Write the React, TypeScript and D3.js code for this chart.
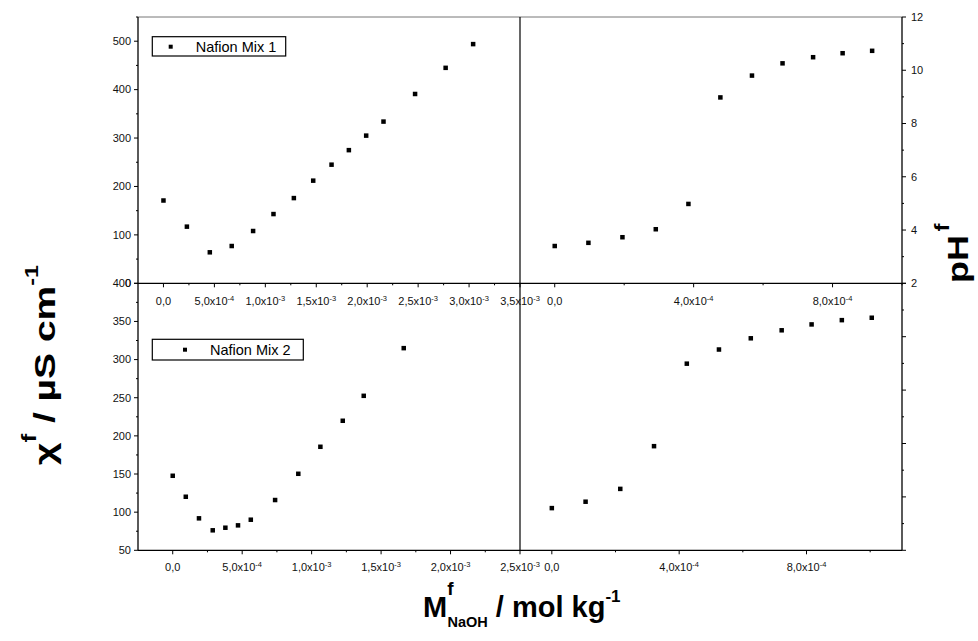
import React from "react";
import * as d3 from "d3";

// ---- data ----
const mix1X = [0, 2.3e-4, 4.55e-4, 6.7e-4, 8.8e-4, 1.08e-3, 1.28e-3, 1.47e-3, 1.65e-3, 1.82e-3, 1.99e-3, 2.16e-3, 2.47e-3, 2.77e-3, 3.04e-3];
const mix1Cond = [171, 117, 64, 77, 108, 143, 176, 212, 245, 275, 305, 334, 391, 445, 494];
const mix1pHX = [0, 0.97e-4, 1.95e-4, 2.91e-4, 3.85e-4, 4.77e-4, 5.68e-4, 6.56e-4, 7.44e-4, 8.29e-4, 9.14e-4];
const mix1pH = [3.4, 3.52, 3.73, 4.03, 4.98, 8.98, 9.8, 10.26, 10.49, 10.64, 10.73];
const mix2X = [0, 0.94e-4, 1.89e-4, 2.88e-4, 3.79e-4, 4.7e-4, 5.62e-4, 7.37e-4, 9.04e-4, 1.063e-3, 1.224e-3, 1.375e-3, 1.663e-3];
const mix2Cond = [147.7, 120.2, 91.9, 76.2, 79.6, 82.7, 90.1, 115.9, 150.3, 185.7, 219.8, 252.5, 315];
const mix2pHX = [0, 1.06e-4, 2.15e-4, 3.21e-4, 4.24e-4, 5.25e-4, 6.25e-4, 7.22e-4, 8.16e-4, 9.11e-4, 1.005e-3];
const mix2pH = [3.58, 3.82, 4.3, 5.9, 8.99, 9.52, 9.94, 10.24, 10.46, 10.62, 10.71];

const topLeftXTicks = [0, 5e-4, 1e-3, 1.5e-3, 2e-3, 2.5e-3, 3e-3, 3.5e-3];
const topLeftXMinor = [2.5e-4, 7.5e-4, 1.25e-3, 1.75e-3, 2.25e-3, 2.75e-3, 3.25e-3];
const topLeftYTicks = [0, 100, 200, 300, 400, 500];
const topLeftYMinor = [50, 150, 250, 350, 450, 550];
const botLeftXTicks = [0, 5e-4, 1e-3, 1.5e-3, 2e-3, 2.5e-3];
const botLeftXMinor = [2.5e-4, 7.5e-4, 1.25e-3, 1.75e-3, 2.25e-3];
const botLeftYTicks = [50, 100, 150, 200, 250, 300, 350, 400];
const botLeftYMinor = [75, 125, 175, 225, 275, 325, 375];
const rightXTicks = [0, 4e-4, 8e-4];
const rightXMinor = [2e-4, 6e-4, 1e-3];
const pHTicks = [2, 4, 6, 8, 10, 12];
const pHMinor = [3, 5, 7, 9, 11];

const legend1 = "Nafion Mix 1";
const legend2 = "Nafion Mix 2";

// ---- layout ----
const W = 978, H = 641;
const L = 138, MX = 520, R = 902, T = 17, MY = 283.3, B = 550.3;
const FONT = "'Liberation Sans', Arial, sans-serif";

const xTL = d3.scaleLinear().domain([-2.5e-4, 3.5e-3]).range([L, MX]);
const yTL = d3.scaleLinear().domain([0, 550]).range([MY, T]);
const xTR = d3.scaleLinear().domain([-1e-4, 1e-3]).range([MX, R]);
const yTR = d3.scaleLinear().domain([2, 12]).range([MY, T]);
const xBL = d3.scaleLinear().domain([-2.5e-4, 2.5e-3]).range([L, MX]);
const yBL = d3.scaleLinear().domain([50, 400]).range([B, MY]);
const xBR = d3.scaleLinear().domain([-1e-4, 1.1e-3]).range([MX, R]);
const yBR = d3.scaleLinear().domain([2, 12]).range([B, MY]);

function SciLabel({ v, x, y }: { v: number; x: number; y: number }) {
  if (v === 0) {
    return (
      <text x={x} y={y} textAnchor="middle" fontSize={11} fontFamily={FONT} fill="#111">
        0,0
      </text>
    );
  }
  const e = Math.floor(Math.log10(v) + 1e-9);
  const m = v / Math.pow(10, e);
  const ms = m.toFixed(1).replace(".", ",");
  return (
    <text x={x} y={y} textAnchor="middle" fontSize={11} fontFamily={FONT} fill="#111">
      {ms + "x10"}
      <tspan fontSize={7.5} dy={-4.5}>{String(e)}</tspan>
    </text>
  );
}

function XAxis({ scale, y, major, minor, labelY }: any) {
  return (
    <g>
      {major.map((v: number, i: number) => (
        <line key={"M" + i} x1={scale(v)} x2={scale(v)} y1={y} y2={y + 4} stroke="#000" strokeWidth={1} />
      ))}
      {minor.map((v: number, i: number) => (
        <line key={"m" + i} x1={scale(v)} x2={scale(v)} y1={y} y2={y + 2} stroke="#000" strokeWidth={1} />
      ))}
      {major.map((v: number, i: number) => (
        <SciLabel key={"l" + i} v={v} x={scale(v)} y={labelY} />
      ))}
    </g>
  );
}

function LeftAxis({ scale, major, minor, labels }: any) {
  return (
    <g>
      {major.map((v: number, i: number) => (
        <line key={"M" + i} x1={L - 4} x2={L} y1={scale(v)} y2={scale(v)} stroke="#000" strokeWidth={1} />
      ))}
      {minor.map((v: number, i: number) => (
        <line key={"m" + i} x1={L - 2} x2={L} y1={scale(v)} y2={scale(v)} stroke="#000" strokeWidth={1} />
      ))}
      {labels &&
        major.map((v: number, i: number) => (
          <text key={"l" + i} x={L - 7} y={scale(v) + 3.8} textAnchor="end" fontSize={11} fontFamily={FONT} fill="#111">
            {String(v)}
          </text>
        ))}
    </g>
  );
}

function RightAxis({ scale, major, minor, labels }: any) {
  return (
    <g>
      {major.map((v: number, i: number) => (
        <line key={"M" + i} x1={R} x2={R + 4} y1={scale(v)} y2={scale(v)} stroke="#000" strokeWidth={1} />
      ))}
      {minor.map((v: number, i: number) => (
        <line key={"m" + i} x1={R} x2={R + 2} y1={scale(v)} y2={scale(v)} stroke="#000" strokeWidth={1} />
      ))}
      {labels &&
        major.map((v: number, i: number) => (
          <text key={"l" + i} x={R + 9} y={scale(v) + 3.8} textAnchor="start" fontSize={11} fontFamily={FONT} fill="#111">
            {String(v)}
          </text>
        ))}
    </g>
  );
}

function Points({ xs, ys, sx, sy }: any) {
  const s = 4.5;
  return (
    <g>
      {xs.map((x: number, i: number) => (
        <rect key={i} x={sx(x) - s / 2} y={sy(ys[i]) - s / 2} width={s} height={s} fill="#000" />
      ))}
    </g>
  );
}

export default function App() {
  return (
    <svg width={W} height={H} style={{ position: "absolute", left: 0, top: 0, background: "#fff" }}>
      <rect x={0} y={0} width={W} height={H} fill="#fff" />
      {/* frame */}
      <line x1={L} x2={R} y1={T} y2={T} stroke="#777" strokeWidth={1} />
      <line x1={L} x2={L} y1={T} y2={B} stroke="#000" strokeWidth={1.3} />
      <line x1={R} x2={R} y1={T} y2={B} stroke="#000" strokeWidth={1.3} />
      <line x1={MX} x2={MX} y1={T} y2={B} stroke="#000" strokeWidth={1.2} />
      <line x1={L} x2={R} y1={MY} y2={MY} stroke="#000" strokeWidth={1.3} />
      <line x1={L} x2={R} y1={B} y2={B} stroke="#000" strokeWidth={1.3} />

      {/* axes */}
      <LeftAxis scale={yTL} major={topLeftYTicks} minor={topLeftYMinor} labels />
      <LeftAxis scale={yBL} major={botLeftYTicks} minor={botLeftYMinor} labels />
      <RightAxis scale={yTR} major={pHTicks} minor={pHMinor} labels />
      <RightAxis scale={yBR} major={pHTicks} minor={pHMinor} labels={false} />
      <XAxis scale={xTL} y={MY} major={topLeftXTicks} minor={topLeftXMinor} labelY={305} />
      <XAxis scale={xTR} y={MY} major={rightXTicks} minor={rightXMinor} labelY={305} />
      <XAxis scale={xBL} y={B} major={botLeftXTicks} minor={botLeftXMinor} labelY={571} />
      <XAxis scale={xBR} y={B} major={rightXTicks} minor={rightXMinor} labelY={571} />

      {/* data */}
      <Points xs={mix1X} ys={mix1Cond} sx={xTL} sy={yTL} />
      <Points xs={mix1pHX} ys={mix1pH} sx={xTR} sy={yTR} />
      <Points xs={mix2X} ys={mix2Cond} sx={xBL} sy={yBL} />
      <Points xs={mix2pHX} ys={mix2pH} sx={xBR} sy={yBR} />

      {/* legends */}
      <rect x={152.3} y={36.7} width={133.4} height={19.3} fill="#fff" stroke="#000" strokeWidth={1.2} />
      <rect x={170.7 - 2} y={46.7 - 2} width={4} height={4} fill="#000" />
      <text x={195.7} y={51.8} fontSize={14.5} fontFamily={FONT} fill="#000">{legend1}</text>
      <rect x={152.3} y={339.3} width={151} height={20.7} fill="#fff" stroke="#000" strokeWidth={1.2} />
      <rect x={185 - 2} y={349.7 - 2} width={4} height={4} fill="#000" />
      <text x={210} y={355} fontSize={14.5} fontFamily={FONT} fill="#000">{legend2}</text>

      {/* axis titles */}
      <text x={423} y={617} fontSize={29} fontWeight="bold" fontFamily={FONT} fill="#000">
        M
        <tspan fontSize={19} dy={-22}>f</tspan>
        <tspan fontSize={14.5} dx={-6} dy={32}>NaOH</tspan>
        <tspan dy={-10}> / mol kg</tspan>
        <tspan fontSize={17} dy={-15}>-1</tspan>
      </text>
      <text transform="translate(55,465) rotate(-90) scale(1.3,1)" textAnchor="start" fontSize={30} fontWeight="bold" fontFamily={FONT} fill="#000">
        χ
        <tspan fontSize={20} dy={-19}>f</tspan>
        <tspan dy={19}> / µS cm</tspan>
        <tspan fontSize={18} dy={-17}>-1</tspan>
      </text>
      <text transform="translate(968,283) rotate(-90) scale(1.2,1)" textAnchor="start" fontSize={30} fontWeight="bold" fontFamily={FONT} fill="#000">
        pH
        <tspan fontSize={20} dx={3} dy={-19}>f</tspan>
      </text>
    </svg>
  );
}
